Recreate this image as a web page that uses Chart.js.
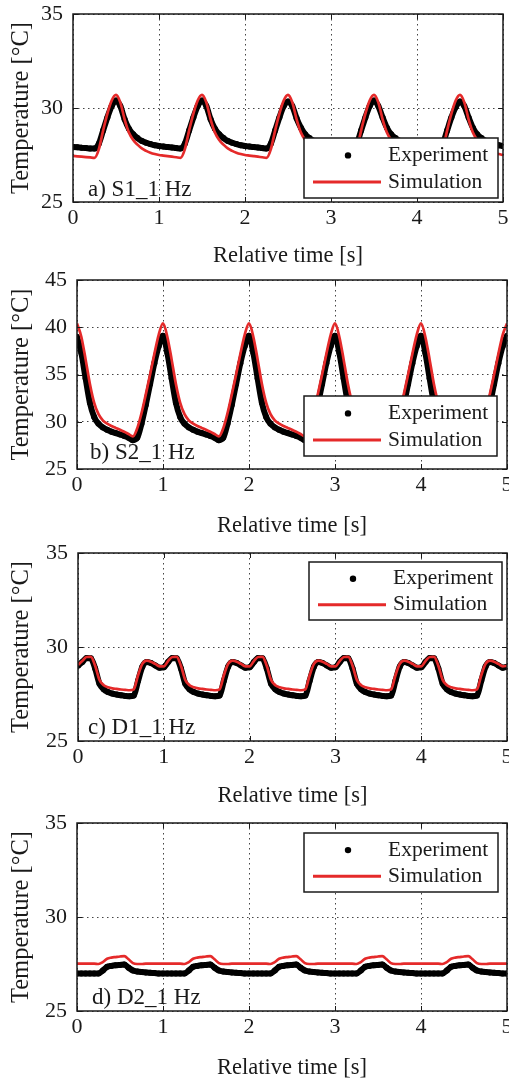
<!DOCTYPE html>
<html><head><meta charset="utf-8">
<script src="https://cdn.jsdelivr.net/npm/chart.js@4.4.1/dist/chart.umd.min.js"></script>
<style>
html,body{margin:0;padding:0;background:#fff;overflow:hidden;width:509px;height:1082px;position:relative;}
.panel{position:absolute;left:0;width:520px;}
canvas{display:block;}
</style></head><body>
<div class="panel" style="top:0;height:270px"><canvas id="c0" width="520" height="270"></canvas></div>
<div class="panel" style="top:270px;height:270px"><canvas id="c1" width="520" height="270"></canvas></div>
<div class="panel" style="top:540px;height:270px"><canvas id="c2" width="520" height="270"></canvas></div>
<div class="panel" style="top:810px;height:272px"><canvas id="c3" width="520" height="272"></canvas></div>
<script>
// ---- data ----
const timeS = [0,0.05,0.1,0.15,0.2,0.25,0.3,0.35,0.4,0.45,0.5,0.55,0.6,0.65,0.7,0.75,0.8,0.85,0.9,0.95,
1,1.05,1.1,1.15,1.2,1.25,1.3,1.35,1.4,1.45,1.5,1.55,1.6,1.65,1.7,1.75,1.8,1.85,1.9,1.95,
2,2.05,2.1,2.15,2.2,2.25,2.3,2.35,2.4,2.45,2.5,2.55,2.6,2.65,2.7,2.75,2.8,2.85,2.9,2.95,
3,3.05,3.1,3.15,3.2,3.25,3.3,3.35,3.4,3.45,3.5,3.55,3.6,3.65,3.7,3.75,3.8,3.85,3.9,3.95,
4,4.05,4.1,4.15,4.2,4.25,4.3,4.35,4.4,4.45,4.5,4.55,4.6,4.65,4.7,4.75,4.8,4.85,4.9,4.95,5];

const xTicks = [0,1,2,3,4,5];
const seriesNames = ['Experiment','Simulation'];
const panelTags = ['a) S1_1 Hz','b) S2_1 Hz','c) D1_1 Hz','d) D2_1 Hz'];
const yRanges = [[25,35],[25,45],[25,35],[25,35]];

const expA = [27.93,27.91,27.89,27.87,27.85,27.84,28.1,28.8,29.5,30.1,30.4,30.1,29.4,28.9,28.6,28.4,28.25,28.15,28.08,28.02,
27.98,27.95,27.92,27.9,27.87,27.85,28.1,28.8,29.5,30.1,30.4,30.1,29.4,28.9,28.6,28.4,28.25,28.15,28.08,28.02,
27.98,27.95,27.92,27.9,27.87,27.85,28.1,28.8,29.5,30.1,30.35,30.1,29.45,28.95,28.6,28.4,28.25,28.15,28.08,28.02,
27.98,27.95,27.92,27.9,27.87,27.85,28.1,28.8,29.5,30.1,30.4,30.1,29.5,28.95,28.6,28.4,28.25,28.15,28.08,28.02,
27.98,27.95,27.92,27.9,27.87,27.85,28.1,28.8,29.5,30.05,30.35,30.1,29.5,28.95,28.6,28.4,28.25,28.15,28.08,28.02,27.98];
const simA = [27.45,27.43,27.41,27.39,27.37,27.35,27.8,28.8,29.7,30.4,30.7,30.3,29.4,28.7,28.3,28.05,27.85,27.72,27.62,27.55,
27.5,27.47,27.44,27.41,27.38,27.35,27.8,28.8,29.7,30.4,30.7,30.3,29.4,28.7,28.3,28.05,27.85,27.72,27.62,27.55,
27.5,27.47,27.44,27.41,27.38,27.35,27.8,28.8,29.7,30.4,30.7,30.3,29.4,28.7,28.3,28.05,27.85,27.72,27.62,27.55,
27.5,27.47,27.44,27.41,27.38,27.35,27.8,28.8,29.7,30.4,30.7,30.3,29.4,28.7,28.3,28.05,27.85,27.72,27.62,27.55,
27.5,27.47,27.44,27.41,27.38,27.35,27.8,28.8,29.7,30.4,30.7,30.3,29.4,28.7,28.3,28.05,27.85,27.72,27.62,27.55,27.5];

const expB = [39.0,37.3,34.6,32.0,30.5,29.8,29.4,29.15,28.95,28.8,28.65,28.5,28.3,28.05,28.3,29.8,31.8,34.0,36.2,38.0,
39.1,37.3,34.6,32.0,30.5,29.8,29.4,29.15,28.95,28.8,28.65,28.5,28.3,28.05,28.3,29.8,31.8,34.0,36.2,38.0,
39.1,37.3,34.6,32.0,30.5,29.8,29.4,29.15,28.95,28.8,28.65,28.5,28.3,28.05,28.3,29.8,31.8,34.0,36.2,38.0,
39.1,37.3,34.6,32.0,30.5,29.8,29.4,29.15,28.95,28.8,28.65,28.5,28.3,28.05,28.3,29.8,31.8,34.0,36.2,38.0,
39.1,37.3,34.6,32.0,30.5,29.8,29.4,29.15,28.95,28.8,28.65,28.5,28.3,28.05,28.3,29.8,31.8,34.0,36.2,38.0,39.1];
const simB = [40.4,39.0,36.6,34.0,32.0,30.8,30.15,29.8,29.55,29.35,29.15,28.95,28.7,28.45,29.3,30.9,32.9,35.0,37.2,39.2,
40.4,39.0,36.6,34.0,32.0,30.8,30.15,29.8,29.55,29.35,29.15,28.95,28.7,28.45,29.3,30.9,32.9,35.0,37.2,39.2,
40.4,39.0,36.6,34.0,32.0,30.8,30.15,29.8,29.55,29.35,29.15,28.95,28.7,28.45,29.3,30.9,32.9,35.0,37.2,39.2,
40.4,39.0,36.6,34.0,32.0,30.8,30.15,29.8,29.55,29.35,29.15,28.95,28.7,28.45,29.3,30.9,32.9,35.0,37.2,39.2,
40.4,39.0,36.6,34.0,32.0,30.8,30.15,29.8,29.55,29.35,29.15,28.95,28.7,28.45,29.3,30.9,32.9,35.0,37.2,39.2,40.4];

const expC = [29.0,29.2,29.42,29.4,28.85,28.05,27.75,27.6,27.52,27.47,27.43,27.4,27.38,27.42,28.2,28.95,29.2,29.15,29.02,28.9,
28.92,29.2,29.42,29.4,28.85,28.05,27.75,27.6,27.52,27.47,27.43,27.4,27.38,27.42,28.2,28.95,29.2,29.15,29.02,28.9,
28.92,29.2,29.42,29.4,28.85,28.05,27.75,27.6,27.52,27.47,27.43,27.4,27.38,27.42,28.2,28.95,29.2,29.15,29.02,28.9,
28.92,29.2,29.42,29.4,28.85,28.05,27.75,27.6,27.52,27.47,27.43,27.4,27.38,27.42,28.2,28.95,29.2,29.15,29.02,28.9,
28.92,29.2,29.42,29.4,28.85,28.05,27.75,27.6,27.52,27.47,27.43,27.4,27.38,27.42,28.2,28.95,29.2,29.15,29.02,28.9,28.95];
const simC = [29.05,29.25,29.47,29.48,29.0,28.25,27.97,27.86,27.8,27.77,27.74,27.72,27.7,27.75,28.5,29.1,29.27,29.22,29.1,28.97,
28.97,29.25,29.47,29.48,29.0,28.25,27.97,27.86,27.8,27.77,27.74,27.72,27.7,27.75,28.5,29.1,29.27,29.22,29.1,28.97,
28.97,29.25,29.47,29.48,29.0,28.25,27.97,27.86,27.8,27.77,27.74,27.72,27.7,27.75,28.5,29.1,29.27,29.22,29.1,28.97,
28.97,29.25,29.47,29.48,29.0,28.25,27.97,27.86,27.8,27.77,27.74,27.72,27.7,27.75,28.5,29.1,29.27,29.22,29.1,28.97,
28.97,29.25,29.47,29.48,29.0,28.25,27.97,27.86,27.8,27.77,27.74,27.72,27.7,27.75,28.5,29.1,29.27,29.22,29.1,28.97,29.0];

const expD = [27.0,27.0,27.0,27.0,27.0,27.0,27.15,27.35,27.4,27.43,27.45,27.47,27.3,27.15,27.1,27.07,27.05,27.03,27.02,27.0,
27.0,27.0,27.0,27.0,27.0,27.0,27.15,27.35,27.4,27.43,27.45,27.47,27.3,27.15,27.1,27.07,27.05,27.03,27.02,27.0,
27.0,27.0,27.0,27.0,27.0,27.0,27.15,27.35,27.4,27.43,27.45,27.47,27.3,27.15,27.1,27.07,27.05,27.03,27.02,27.0,
27.0,27.0,27.0,27.0,27.0,27.0,27.15,27.35,27.4,27.43,27.45,27.47,27.3,27.15,27.1,27.07,27.05,27.03,27.02,27.0,
27.0,27.0,27.0,27.0,27.0,27.0,27.15,27.35,27.4,27.43,27.45,27.47,27.3,27.15,27.1,27.07,27.05,27.03,27.02,27.0,27.0];
const simD = [27.52,27.52,27.52,27.52,27.52,27.5,27.6,27.78,27.84,27.87,27.9,27.92,27.75,27.55,27.5,27.5,27.52,27.52,27.52,27.52,
27.52,27.52,27.52,27.52,27.52,27.5,27.6,27.78,27.84,27.87,27.9,27.92,27.75,27.55,27.5,27.5,27.52,27.52,27.52,27.52,
27.52,27.52,27.52,27.52,27.52,27.5,27.6,27.78,27.84,27.87,27.9,27.92,27.75,27.55,27.5,27.5,27.52,27.52,27.52,27.52,
27.52,27.52,27.52,27.52,27.52,27.5,27.6,27.78,27.84,27.87,27.9,27.92,27.75,27.55,27.5,27.5,27.52,27.52,27.52,27.52,
27.52,27.52,27.52,27.52,27.52,27.5,27.6,27.78,27.84,27.87,27.9,27.92,27.75,27.55,27.5,27.5,27.52,27.52,27.52,27.52,27.52];

// ---- layout / style ----
const FONT = "'Liberation Serif','Times New Roman',serif";
const INK = '#1a1a1a';
const RED = '#e52a2a';
const layouts = [
  {id:'c0', h:270, area:{l:73,t:14,r:503,b:202}, legend:{x:304,y:138,w:194,h:60}, tag:{x:88,y:190}},
  {id:'c1', h:270, area:{l:77,t:10,r:507,b:199}, legend:{x:304,y:126,w:193,h:60}, tag:{x:90,y:183}},
  {id:'c2', h:270, area:{l:78,t:13,r:507,b:201}, legend:{x:309,y:22,w:193,h:58}, tag:{x:88,y:188}},
  {id:'c3', h:272, area:{l:77,t:13,r:507,b:201}, legend:{x:304,y:23,w:194,h:59}, tag:{x:92,y:188}}
];
const expSeries = [expA, expB, expC, expD];
const simSeries = [simA, simB, simC, simD];

const decorPlugin = {
  id: 'decor',
  afterDraw(chart, args, opts) {
    const ctx = chart.ctx, a = chart.chartArea;
    const xs = chart.scales.x, ys = chart.scales.y;
    ctx.save();
    // inward tick marks
    ctx.strokeStyle = INK; ctx.lineWidth = 1;
    ctx.beginPath();
    xs.ticks.forEach(t => {
      const px = Math.round(xs.getPixelForValue(t.value)) + 0.5;
      ctx.moveTo(px, a.bottom); ctx.lineTo(px, a.bottom - 5);
      ctx.moveTo(px, a.top); ctx.lineTo(px, a.top + 5);
    });
    ys.ticks.forEach(t => {
      const py = Math.round(ys.getPixelForValue(t.value)) + 0.5;
      ctx.moveTo(a.left, py); ctx.lineTo(a.left + 5, py);
      ctx.moveTo(a.right, py); ctx.lineTo(a.right - 5, py);
    });
    ctx.stroke();
    // frame
    ctx.lineWidth = 1.5;
    ctx.strokeRect(a.left, a.top, a.right - a.left, a.bottom - a.top);
    // panel tag
    ctx.fillStyle = INK;
    ctx.font = '23px ' + FONT;
    ctx.textBaseline = 'middle'; ctx.textAlign = 'left';
    ctx.fillText(opts.tag.text, opts.tag.x, opts.tag.y);
    // legend box
    const L = opts.legend;
    ctx.fillStyle = '#fff';
    ctx.fillRect(L.x, L.y, L.w, L.h);
    ctx.strokeStyle = INK; ctx.lineWidth = 1.5;
    ctx.strokeRect(L.x, L.y, L.w, L.h);
    ctx.font = '21.5px ' + FONT;
    const rows = [L.y + L.h * 0.29, L.y + L.h * 0.735];
    chart.data.datasets.forEach((ds) => {
      const yy = rows[ds.legendRow];
      if (ds.legendRow === 0) {
        ctx.fillStyle = '#000';
        ctx.beginPath(); ctx.arc(L.x + 44, yy, 3.2, 0, Math.PI * 2); ctx.fill();
      } else {
        ctx.strokeStyle = RED; ctx.lineWidth = 3;
        ctx.beginPath(); ctx.moveTo(L.x + 9, yy); ctx.lineTo(L.x + 77, yy); ctx.stroke();
      }
      ctx.fillStyle = INK;
      ctx.fillText(ds.label, L.x + 84, yy);
    });
    ctx.restore();
  }
};

layouts.forEach((lay, k) => {
  const W = 520, H = lay.h, A = lay.area;
  const pts = (arr) => timeS.map((t, i) => ({x: t, y: arr[i]}));
  new Chart(document.getElementById(lay.id), {
    type: 'line',
    data: {
      datasets: [
        {label: seriesNames[0], data: pts(expSeries[k]), borderColor: '#000', backgroundColor: '#000',
         borderWidth: 6, pointRadius: 3, pointBorderWidth: 0, pointBackgroundColor: '#000',
         cubicInterpolationMode: 'monotone', order: 1, legendRow: 0},
        {label: seriesNames[1], data: pts(simSeries[k]), borderColor: RED, backgroundColor: RED,
         borderWidth: 2.7, pointRadius: 0, cubicInterpolationMode: 'monotone', order: 0, legendRow: 1}
      ]
    },
    options: {
      responsive: false, animation: false, devicePixelRatio: 1,
      layout: {padding: {top: A.t, left: 0, right: W - A.r, bottom: 0}},
      scales: {
        x: {
          type: 'linear', min: 0, max: 5,
          afterBuildTicks: (s) => { s.ticks = xTicks.map(v => ({value: v})); },
          afterFit: (s) => { s.height = H - A.b; s.paddingLeft = 0; s.paddingRight = 0; },
          grid: {color: '#444', lineWidth: 1, drawTicks: false},
          border: {display: false, dash: [1.5, 3.5]},
          ticks: {color: INK, font: {family: FONT, size: 22}, padding: 3, maxRotation: 0},
          title: {display: true, text: 'Relative time [s]', color: INK, font: {family: FONT, size: 22.5}, padding: {top: 0, bottom: 0}}
        },
        y: {
          min: yRanges[k][0], max: yRanges[k][1],
          ticks: {stepSize: 5, color: INK, font: {family: FONT, size: 22}, padding: 10},
          afterFit: (s) => { s.width = A.l; s.paddingTop = 0; s.paddingBottom = 0; },
          grid: {color: '#444', lineWidth: 1, drawTicks: false},
          border: {display: false, dash: [1.5, 3.5]},
          title: {display: true, text: 'Temperature [°C]', color: INK, font: {family: FONT, size: 24.5}, padding: {top: 7, bottom: 0}}
        }
      },
      plugins: {
        legend: {display: false}, tooltip: {enabled: false},
        decor: {tag: {text: panelTags[k], x: lay.tag.x, y: lay.tag.y}, legend: lay.legend}
      }
    },
    plugins: [decorPlugin]
  });
});
</script>
</body></html>
